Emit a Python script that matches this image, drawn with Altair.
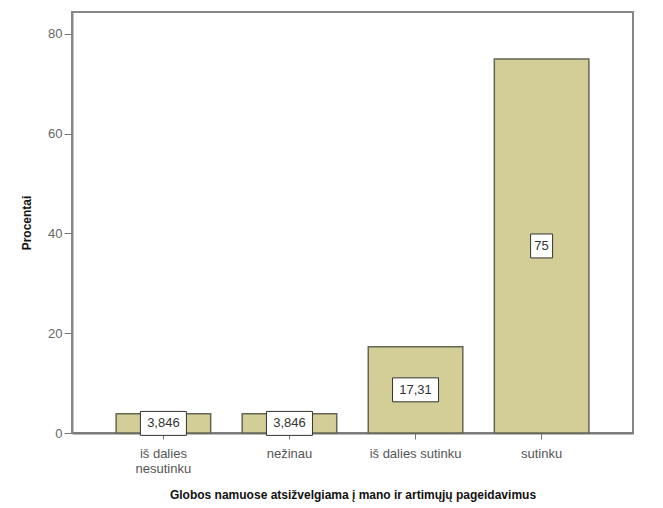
import altair as alt
import pandas as pd

categories = ["iš dalies nesutinku", "nežinau", "iš dalies sutinku", "sutinku"]
values = [3.846, 3.846, 17.31, 75.0]
labels = ["3,846", "3,846", "17,31", "75"]

df = pd.DataFrame({"cat": categories, "val": values, "lab": labels})

FONT = "Liberation Sans"

x = alt.X(
    "cat:N",
    sort=categories,
    title="Globos namuose atsižvelgiama į mano ir artimųjų pageidavimus",
    scale=alt.Scale(paddingInner=0.25, paddingOuter=0.35),
    axis=alt.Axis(
        labelAngle=0,
        labelExpr="datum.label == 'iš dalies nesutinku' ? ['iš dalies', 'nesutinku'] : datum.label",
        labelColor="#555555",
        labelFontSize=13,
        labelFont=FONT,
        labelPadding=8,
        labelLineHeight=15,
        tickColor="#777777",
        tickSize=6,
        domainColor="#777777",
        domainWidth=2,
        titleFont=FONT,
        titleFontSize=12,
        titleFontWeight="bold",
        titleColor="#111111",
        titlePadding=14,
    ),
)

y = alt.Y(
    "val:Q",
    title="Procentai",
    scale=alt.Scale(domain=[0, 84.4], nice=False),
    axis=alt.Axis(
        values=[0, 20, 40, 60, 80],
        grid=False,
        labelColor="#666666",
        labelFontSize=13,
        labelFont=FONT,
        tickColor="#777777",
        tickSize=8,
        labelPadding=2,
        domainColor="#888888",
        domainWidth=2,
        titleFont=FONT,
        titleFontSize=12,
        titleFontWeight="bold",
        titleColor="#111111",
        titlePadding=14,
    ),
)

bars = alt.Chart(df).mark_bar(
    color="#D3CE97", stroke="#666655", strokeWidth=1.5
).encode(x=x, y=y)

boxes = alt.Chart(df).transform_calculate(
    lo="datum.val/2 - 2.4",
    hi="datum.val/2 + 2.4",
    w="length(datum.lab) * 8 + 6",
).mark_bar(fill="white", stroke="#333333", strokeWidth=1).encode(
    x=alt.X("cat:N", sort=categories),
    y=alt.Y("lo:Q"),
    y2="hi:Q",
    size=alt.Size("w:Q", scale=None, legend=None),
)

texts = alt.Chart(df).transform_calculate(
    mid="datum.val/2"
).mark_text(font=FONT, fontSize=13, color="#333333", baseline="middle").encode(
    x=alt.X("cat:N", sort=categories),
    y=alt.Y("mid:Q"),
    text="lab:N",
)

chart = alt.layer(bars, boxes, texts).properties(
    width=561,
    height=421,
    autosize=alt.AutoSizeParams(type="none"),
    padding={"left": 64, "top": 4, "right": 22, "bottom": 70},
).configure_view(stroke="#888888", strokeWidth=2)

chart.save("out.html", embed_options={"renderer": "svg", "actions": False})
